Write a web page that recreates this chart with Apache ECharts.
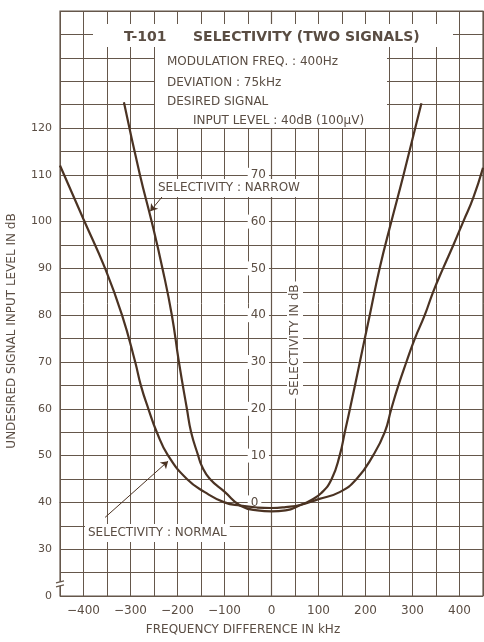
<!DOCTYPE html>
<html>
<head>
<meta charset="utf-8">
<script src="https://cdn.jsdelivr.net/npm/echarts@6/dist/echarts.min.js"></script>
<style>
  html, body { margin: 0; padding: 0; background: #fff; }
  #chart { width: 484px; height: 642px; }
</style>
</head>
<body>
<div id="chart"></div>
<script>
// curve readings (kHz, dB)
const narrowFreq  = [-314, -280, -255, -232, -212, -197, -180, -171, -156, -148, -131, -99, -66, -30, 0, 30, 63, 81, 106, 128, 145, 156, 167, 188, 209, 230, 255, 281, 319];
const narrowLevel = [125.5, 110, 100, 90, 80, 70, 60, 55, 50, 47.7, 45, 42.2, 39.3, 38.3, 38.1, 38.3, 39.5, 40.3, 42, 45, 50, 55, 60, 70, 80, 90, 100, 110, 125.3];

const normalFreq  = [-450, -400, -354, -318, -290, -278, -262, -244, -220, -180, -142, -100, -66, -30, 0, 30, 63, 100, 145, 181, 216, 241, 255, 270, 287, 305, 326, 344, 365, 387, 408, 429, 450];
const normalLevel = [112, 100.5, 90, 80, 70, 65, 60, 55, 50, 45, 42.2, 40, 39.3, 38.9, 38.8, 39, 39.5, 40.7, 42.2, 45, 50, 55, 60, 65, 70, 75, 80, 85, 90, 95, 100, 105, 111.5];

// tick labels
const levelTicks = [30, 40, 50, 60, 70, 80, 90, 100, 110, 120];
const selTicks = [0, 10, 20, 30, 40, 50, 60, 70];
const freqTicks = [-400, -300, -200, -100, 0, 100, 200, 300, 400];

// arrows: [from, to] in kHz / dB
const narrowArrow = [[-227, 106], [-258, 102.2]];
const normalArrow = [[-354, 36.8], [-220, 48.8]];

const ink = '#4b3323';
const gridInk = '#65574b';
const textInk = '#5a4d43';
const font = '"DejaVu Sans", sans-serif';

const chart = echarts.init(document.getElementById('chart'), null, { renderer: 'canvas' });

function pair(xs, ys) {
  return xs.map((x, i) => [x, ys[i]]);
}

function minus(v) {
  return v < 0 ? '\u2212' + (-v) : String(v);
}

chart.setOption({
  backgroundColor: '#ffffff',
  animation: false,
  grid: {
    left: 60, right: 1, top: 11, bottom: 46,
    outerBoundsMode: 'none',
    show: true, borderColor: gridInk, borderWidth: 1.2
  },
  xAxis: {
    type: 'value', min: -450, max: 450, interval: 50,
    axisLine: { show: true, lineStyle: { color: gridInk, width: 1.2 } },
    axisTick: { show: false },
    splitLine: { show: true, lineStyle: { color: gridInk, width: 1 } },
    axisLabel: {
      margin: 9, color: textInk, fontFamily: font, fontSize: 12,
      formatter: v => freqTicks.includes(v) ? minus(v) : ''
    }
  },
  yAxis: [
    {
      type: 'value', min: 20, max: 145, interval: 5,
      axisLine: { show: true, lineStyle: { color: gridInk, width: 1.2 } },
      axisTick: { show: false },
      splitLine: { show: true, lineStyle: { color: gridInk, width: 1 } },
      axisLabel: {
        margin: 8, color: textInk, fontFamily: font, fontSize: 11,
        formatter: v => v === 20 ? '0' : (levelTicks.includes(v) ? String(v) : '')
      }
    },
    {
      // selectivity scale drawn on the -50 kHz line
      type: 'value', position: 'left', offset: -187.7,
      min: -20, max: 105,
      axisLine: { show: false },
      axisTick: { show: false },
      splitLine: { show: false },
      axisLabel: {
        inside: true, margin: 0, color: textInk, fontFamily: font, fontSize: 12,
        backgroundColor: '#fff', padding: [1, 3, 1, 3],
        customValues: selTicks
      }
    }
  ],
  series: [
    {
      name: 'NARROW', type: 'line', z: 10,
      data: pair(narrowFreq, narrowLevel),
      smooth: 0.5,
      symbol: 'none',
      lineStyle: { color: ink, width: 2.2 },
      markLine: {
        silent: true, symbol: ['none', 'arrow'], symbolSize: 7,
        label: { show: false },
        lineStyle: { color: ink, width: 1, type: 'solid' },
        data: [[{ coord: narrowArrow[0] }, { coord: narrowArrow[1] }]]
      }
    },
    {
      name: 'NORMAL', type: 'line', z: 10,
      data: pair(normalFreq, normalLevel),
      smooth: 0.5,
      symbol: 'none',
      lineStyle: { color: ink, width: 2.2 },
      markLine: {
        silent: true, symbol: ['none', 'arrow'], symbolSize: 7,
        label: { show: false },
        lineStyle: { color: ink, width: 1, type: 'solid' },
        data: [[{ coord: normalArrow[0] }, { coord: normalArrow[1] }]]
      }
    }
  ]
});

// boxes and texts over the grid
const brk = chart.convertToPixel({ gridIndex: 0 }, [-450, 22.6]);

chart.setOption({
  graphic: [
    { type: 'rect', z: 5, shape: { x: 93, y: 24, width: 360, height: 23 }, style: { fill: '#fff' } },
    { type: 'rect', z: 5, shape: { x: 155, y: 47, width: 232, height: 81 }, style: { fill: '#fff' } },
    { type: 'text', z: 6, x: 124, y: 37, style: { text: 'T-101', font: 'bold 14px "DejaVu Sans", sans-serif', fill: textInk, verticalAlign: 'middle' } },
    { type: 'text', z: 6, x: 193, y: 37, style: { text: 'SELECTIVITY (TWO SIGNALS)', font: 'bold 14px "DejaVu Sans", sans-serif', fill: textInk, verticalAlign: 'middle' } },
    { type: 'text', z: 6, x: 167, y: 62, style: { text: 'MODULATION FREQ. : 400Hz', font: '12px ' + font, fill: textInk, verticalAlign: 'middle' } },
    { type: 'text', z: 6, x: 167, y: 83, style: { text: 'DEVIATION : 75kHz', font: '12px ' + font, fill: textInk, verticalAlign: 'middle' } },
    { type: 'text', z: 6, x: 167, y: 102, style: { text: 'DESIRED SIGNAL', font: '12px ' + font, fill: textInk, verticalAlign: 'middle' } },
    { type: 'text', z: 6, x: 193, y: 121, style: { text: 'INPUT LEVEL : 40dB (100\u03bcV)', font: '12px ' + font, fill: textInk, verticalAlign: 'middle' } },
    { type: 'text', z: 6, x: 155, y: 188, style: { text: 'SELECTIVITY : NARROW', font: '12px ' + font, fill: textInk, verticalAlign: 'middle', backgroundColor: '#fff', padding: [3, 3, 3, 3] } },
    { type: 'text', z: 6, x: 85, y: 533, style: { text: 'SELECTIVITY : NORMAL', font: '12px ' + font, fill: textInk, verticalAlign: 'middle', backgroundColor: '#fff', padding: [3, 3, 3, 3] } },
    { type: 'text', z: 6, x: 295, y: 340, rotation: Math.PI / 2, style: { text: 'SELECTIVITY IN dB', font: '12px ' + font, fill: textInk, align: 'center', verticalAlign: 'middle', backgroundColor: '#fff', padding: [2, 3, 2, 3] } },
    { type: 'text', z: 6, x: 12, y: 331, rotation: Math.PI / 2, style: { text: 'UNDESIRED SIGNAL INPUT LEVEL IN dB', font: '12px ' + font, fill: textInk, align: 'center', verticalAlign: 'middle' } },
    { type: 'text', z: 6, x: 243, y: 630, style: { text: 'FREQUENCY DIFFERENCE IN kHz', font: '12px ' + font, fill: textInk, align: 'center', verticalAlign: 'middle' } },
    // axis break mark
    { type: 'rect', z: 6, shape: { x: brk[0] - 3, y: brk[1] - 2, width: 6, height: 4 }, style: { fill: '#fff' } },
    { type: 'line', z: 7, shape: { x1: brk[0] - 4, y1: brk[1] - 1, x2: brk[0] + 4, y2: brk[1] - 3 }, style: { stroke: gridInk, lineWidth: 1.2 } },
    { type: 'line', z: 7, shape: { x1: brk[0] - 4, y1: brk[1] + 3, x2: brk[0] + 4, y2: brk[1] + 1 }, style: { stroke: gridInk, lineWidth: 1.2 } }
  ]
});
</script>
</body>
</html>
